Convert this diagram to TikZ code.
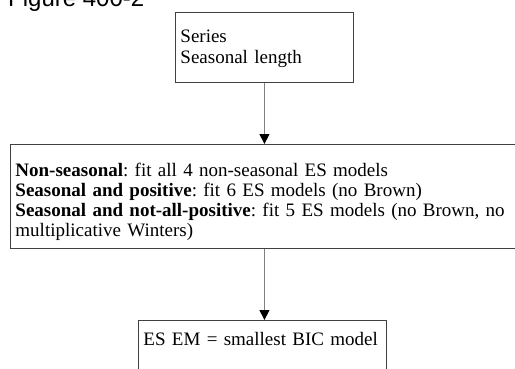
\documentclass[tikz,border=0pt]{standalone}
\usepackage{fontspec}
\setmainfont{Liberation Serif}
\newfontfamily\titlefont{Liberation Sans}
\usetikzlibrary{arrows.meta,positioning}
\frenchspacing

\begin{document}
\begin{tikzpicture}
      [x=1pt, y=-1pt, >={Triangle[black,length=10pt,width=10pt]},
      stepbox/.style={rectangle, draw=black!75, line width=0.9pt, align=left,
        inner xsep=5pt, inner ysep=5pt, font=\fontsize{19}{20}\selectfont},
      flow/.style={->, draw=black!50, line width=1pt}]

      \useasboundingbox (0,0) rectangle (515,368);
      \node [anchor=base west, inner sep=0pt,
        font=\titlefont\fontsize{24}{28}\selectfont] (title) at (8,6) {Figure 400-2};

      \node [stepbox, anchor=north west, text width=168pt, text height=25pt,
        text depth=35pt, font=\fontsize{19}{21}\selectfont] (input) at (175,12)
        {Series\\Seasonal length};
      \node [stepbox, anchor=north west, text width=498pt, text height=27pt,
        text depth=67pt] (rules) at (10,144)
        {\textbf{Non-seasonal}: fit all 4 non-seasonal ES models\\
         \textbf{Seasonal and positive}: fit 6 ES models (no Brown)\\
         \textbf{Seasonal and not-all-positive}: fit 5 ES models (no Brown, no\\
         multiplicative Winters)};
      \node [stepbox, anchor=north west, text width=238pt, text height=17pt,
        text depth=30pt, inner ysep=8pt] (result) at (138,320)
        {ES EM = smallest BIC model};

      \draw [flow] (input.south) -- (input.south |- rules.north);
      \draw [flow] (input.south |- rules.south) -- (input.south |- result.north);
\end{tikzpicture}
\end{document}
